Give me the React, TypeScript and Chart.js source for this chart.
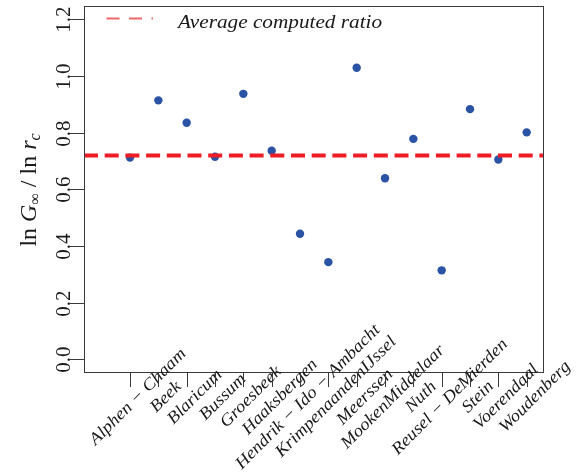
import React, { useEffect, useRef } from "react";
import { Chart, registerables } from "chart.js";
Chart.register(...registerables);

const categories = [
  "Alphen − Chaam",
  "Beek",
  "Blaricum",
  "Bussum",
  "Groesbeek",
  "Haaksbergen",
  "Hendrik − Ido − Ambacht",
  "KrimpenaandenIJssel",
  "Meerssen",
  "MookenMiddelaar",
  "Nuth",
  "Reusel − DeMierden",
  "Stein",
  "Voerendaal",
  "Woudenberg",
];
const ratios = [0.712, 0.914, 0.835, 0.715, 0.937, 0.736, 0.443, 0.343, 1.029, 0.639, 0.778, 0.314, 0.883, 0.705, 0.801];
const averageRatio = 0.719;
const yTicks = [0, 0.2, 0.4, 0.6, 0.8, 1.0, 1.2];
const yTickLabels = ["0.0", "0.2", "0.4", "0.6", "0.8", "1.0", "1.2"];
const legendLabel = "Average computed ratio";

const X_MIN = -1.624;
const X_MAX = 14.576;
const Y_MIN = -0.0448;
const Y_MAX = 1.247;

const SERIF = '"Liberation Serif", "Times New Roman", serif';

const decorPlugin = {
  id: "decor",
  afterDraw(chart: any) {
    const ctx = chart.ctx as CanvasRenderingContext2D;
    const area = chart.chartArea;
    const xs = chart.scales.x;
    const ys = chart.scales.y;
    ctx.save();
    // box
    ctx.strokeStyle = "#3a3a3a";
    ctx.lineWidth = 1;
    ctx.strokeRect(Math.round(area.left) + 0.5, Math.round(area.top) + 0.5, Math.round(area.right - area.left), Math.round(area.bottom - area.top));

    // y ticks
    ctx.fillStyle = "#1a1a1a";
    ctx.font = `21px ${SERIF}`;
    yTicks.forEach((v, i) => {
      const py = Math.round(ys.getPixelForValue(v)) + 0.5;
      ctx.beginPath();
      ctx.moveTo(area.left - 14, py);
      ctx.lineTo(area.left, py);
      ctx.stroke();
      ctx.save();
      ctx.translate(area.left - 14.5, py);
      ctx.rotate(-Math.PI / 2);
      ctx.textAlign = "center";
      ctx.textBaseline = "alphabetic";
      ctx.fillText(yTickLabels[i], 0, 0);
      ctx.restore();
    });

    // x ticks and labels
    ctx.font = `italic 17px ${SERIF}`;
    categories.forEach((c, i) => {
      const px = Math.round(xs.getPixelForValue(i)) + 0.5;
      ctx.beginPath();
      ctx.moveTo(px, area.bottom);
      ctx.lineTo(px, area.bottom + 15);
      ctx.stroke();
      ctx.save();
      ctx.translate(px + 7.5, area.bottom + 25);
      ctx.rotate(-Math.PI / 4);
      ctx.scale(1.1, 1);
      ctx.textAlign = "center";
      ctx.textBaseline = "middle";
      ctx.fillText(c, 0, 0);
      ctx.restore();
    });

    // legend
    ctx.save();
    ctx.strokeStyle = "rgba(232,40,40,0.7)";
    ctx.lineWidth = 2;
    ctx.setLineDash([13, 9.5]);
    ctx.beginPath();
    ctx.moveTo(area.left + 22.5, area.top + 12.5);
    ctx.lineTo(area.left + 69, area.top + 12.5);
    ctx.stroke();
    ctx.restore();
    ctx.save();
    ctx.font = `italic 18px ${SERIF}`;
    ctx.fillStyle = "#1a1a1a";
    ctx.translate(area.left + 94, area.top + 21.5);
    ctx.scale(1.18, 1);
    ctx.textAlign = "left";
    ctx.textBaseline = "alphabetic";
    ctx.fillText(legendLabel, 0, 0);
    ctx.restore();

    // y axis title: ln G_inf / ln r_c
    const segs: { t: string; font: string; dy: number }[] = [
      { t: "ln ", font: `24px ${SERIF}`, dy: 0 },
      { t: "G", font: `italic 24px ${SERIF}`, dy: 0 },
      { t: "∞", font: `16px ${SERIF}`, dy: 4 },
      { t: " / ", font: `24px ${SERIF}`, dy: 0 },
      { t: "ln ", font: `24px ${SERIF}`, dy: 0 },
      { t: "r", font: `italic 24px ${SERIF}`, dy: 0 },
      { t: "c", font: `italic 16px ${SERIF}`, dy: 4 },
    ];
    let total = 0;
    const widths = segs.map((s) => {
      ctx.font = s.font;
      const w = ctx.measureText(s.t).width;
      total += w;
      return w;
    });
    ctx.save();
    ctx.translate(36, (area.top + area.bottom) / 2 + 1);
    ctx.rotate(-Math.PI / 2);
    ctx.fillStyle = "#1a1a1a";
    ctx.textBaseline = "alphabetic";
    ctx.textAlign = "left";
    let x = -total / 2;
    segs.forEach((s, i) => {
      ctx.font = s.font;
      ctx.fillText(s.t, x, s.dy);
      x += widths[i];
    });
    ctx.restore();

    ctx.restore();
  },
};

export default function App() {
  const ref = useRef<HTMLCanvasElement | null>(null);
  useEffect(() => {
    if (!ref.current) return;
    const chart = new Chart(ref.current, {
      type: "scatter",
      data: {
        datasets: [
          {
            type: "line",
            label: legendLabel,
            data: [
              { x: X_MIN, y: averageRatio },
              { x: X_MAX, y: averageRatio },
            ],
            borderColor: "#ee1c25",
            borderWidth: 4,
            borderDash: [14, 6.7],
            pointRadius: 0,
            fill: false,
            order: 0,
          } as any,
          {
            label: "ratio",
            data: ratios.map((v, i) => ({ x: i, y: v })),
            backgroundColor: "#2a53a6",
            borderWidth: 0,
            pointRadius: 4.2,
            order: 1,
          },
        ],
      },
      options: {
        responsive: false,
        animation: false,
        layout: { padding: { left: 84, right: 38, top: 6, bottom: 100 } },
        plugins: { legend: { display: false }, tooltip: { enabled: false } },
        scales: {
          x: { type: "linear", min: X_MIN, max: X_MAX, display: false },
          y: { type: "linear", min: Y_MIN, max: Y_MAX, display: false },
        },
      },
      plugins: [decorPlugin],
    });
    return () => chart.destroy();
  }, []);
  return (
    <div style={{ position: "absolute", left: 0, top: 0, width: 581, height: 472, background: "#fff" }}>
      <canvas ref={ref} width={581} height={472} style={{ display: "block" }} />
    </div>
  );
}
